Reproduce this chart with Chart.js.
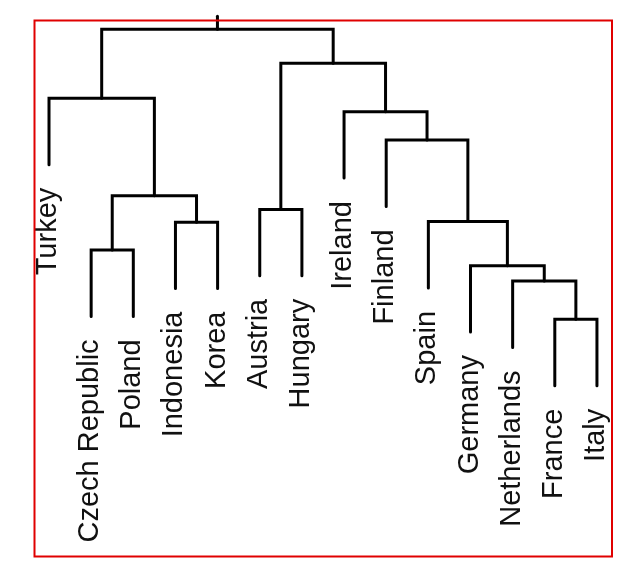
<!DOCTYPE html>
<html><head><meta charset="utf-8">
<script src="https://cdn.jsdelivr.net/npm/chart.js@4/dist/chart.umd.min.js"></script>
<style>html,body{margin:0;padding:0;background:#fff;}canvas{display:block;}</style>
</head><body>
<canvas id="c" width="639" height="568"></canvas>
<script>
// Leaves in display order (left to right)
const leaves = ['Turkey','Czech Republic','Poland','Indonesia','Korea','Austria','Hungary',
  'Ireland','Finland','Spain','Germany','Netherlands','France','Italy'];
// hclust-style merge table: negative = leaf (1-based), positive = earlier merge (1-based)
const mergeLeft   = [-13, -12, -11, -2, -4, -10, -6, 4, -9, -8, -1, 7, 11];
const mergeRight  = [-14,   1,   2, -3, -5,   3, -7, 5,  6,  9,  8, 10, 12];
const mergeHeight = [0.99, 2.31, 2.84, 3.38, 4.34, 4.36, 4.78, 5.25, 7.17, 8.15, 8.61, 9.82, 10.99];
const hang = 2.29;
const rootStem = 0.45;

// Derived positions
const mergeX = [];
function refX(r){ return r < 0 ? -r : mergeX[r-1]; }
function refTop(r, h){ return r < 0 ? h - hang : mergeHeight[r-1]; }
const leafEnd = new Array(leaves.length).fill(0);
const datasets = [];
for (let k = 0; k < mergeHeight.length; k++) {
  const l = mergeLeft[k], r = mergeRight[k], h = mergeHeight[k];
  const xl = refX(l), xr = refX(r);
  mergeX.push((xl + xr) / 2);
  if (l < 0) leafEnd[-l-1] = h - hang;
  if (r < 0) leafEnd[-r-1] = h - hang;
  datasets.push({
    data: [{x:xl, y:refTop(l,h)}, {x:xl, y:h}, {x:xr, y:h}, {x:xr, y:refTop(r,h)}]
  });
}
const rootK = mergeHeight.length - 1;
datasets.push({ data: [{x:mergeX[rootK], y:mergeHeight[rootK]}, {x:mergeX[rootK], y:mergeHeight[rootK] + rootStem}] });
datasets.forEach(d => Object.assign(d, {
  showLine: true, borderColor: '#000', borderWidth: 3, pointRadius: 0,
  borderJoinStyle: 'miter', borderCapStyle: 'round', clip: false, tension: 0
}));

const labelPlugin = {
  id: 'leafLabels',
  afterDatasetsDraw(chart) {
    const ctx = chart.ctx, xs = chart.scales.x, ys = chart.scales.y;
    ctx.save();
    ctx.font = '29px "Liberation Sans", Arial, sans-serif';
    ctx.fillStyle = '#111';
    ctx.textAlign = 'right';
    ctx.textBaseline = 'alphabetic';
    leaves.forEach((name, i) => {
      const px = xs.getPixelForValue(i + 1);
      const py = ys.getPixelForValue(leafEnd[i]);
      ctx.save();
      ctx.translate(px + 7, py + 23);
      ctx.rotate(-Math.PI / 2);
      ctx.fillText(name, 0, 0);
      ctx.restore();
    });
    ctx.restore();
  }
};
const boxPlugin = {
  id: 'redBox',
  afterDraw(chart) {
    const a = chart.chartArea, ctx = chart.ctx;
    ctx.save();
    ctx.strokeStyle = '#e00000';
    ctx.lineWidth = 2;
    ctx.strokeRect(a.left + 0.5, a.top + 0.5, a.right - a.left - 0.5, a.bottom - a.top);
    ctx.restore();
  }
};

new Chart(document.getElementById('c'), {
  type: 'scatter',
  data: { datasets },
  options: {
    responsive: false, animation: false, devicePixelRatio: 1,
    layout: { padding: { left: 34, top: 20, right: 27, bottom: 12 } },
    plugins: { legend: { display: false }, tooltip: { enabled: false } },
    scales: {
      x: { type: 'linear', min: 0.644, max: 14.357, display: false },
      y: { type: 'linear', min: -7.172, max: 11.31, display: false }
    }
  },
  plugins: [labelPlugin, boxPlugin]
});
</script>
</body></html>
